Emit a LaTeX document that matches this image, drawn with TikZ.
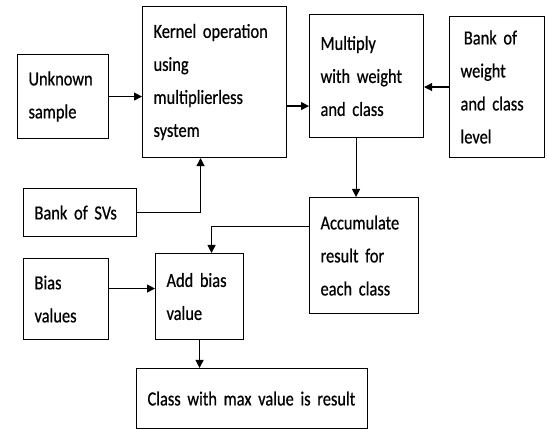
\documentclass[tikz,border=0pt]{standalone}
\usepackage{fontspec}
\setmainfont{Carlito}[FakeStretch=0.82,FakeBold=0.6,WordSpace=0.7]
\usetikzlibrary{calc,arrows.meta}

\begin{document}
\begin{tikzpicture}[x=1pt,y=-1pt,
		blk/.style={draw, line width=1.1pt, anchor=north west, align=left, inner xsep=11pt, inner ysep=0pt, font=\fontsize{20}{33}\selectfont},
		arr/.style={line width=1.1pt, -{Triangle[length=8pt,width=8pt]}}]
		\useasboundingbox (0,0) rectangle (547,430);
		% top row
		\node[blk, text width=69pt, minimum height=84pt] (unknown) at (17,54) {Unknown\\sample};
		\node[blk, text width=122pt, minimum height=151pt] (kernel) at (142,6) {Kernel operation\\using\\multiplierless\\system};
		\node[blk, text width=92pt, minimum height=123pt] (multiply) at (309,14) {Multiply\\with weight\\and class};
		\node[blk, text width=73pt, minimum height=141pt] (bankw) at (449,16) {\,Bank of\\weight\\and class\\level};
		% lower part
		\node[blk, text width=91pt, minimum height=48pt] (sv) at (23,188) {Bank of SVs};
		\node[blk, text width=87pt, minimum height=116pt] (accum) at (309,197) {Accumulate\\result for\\each class};
		\node[blk, text width=63pt, minimum height=81pt] (bias) at (23,258) {Bias\\values};
		\node[blk, text width=66pt, minimum height=86pt] (add) at (155,253) {Add bias\\value};
		\node[blk, text width=209pt, minimum height=60pt] (cls) at (136,368) {Class with max value is result};
		% connectors
		\coordinate (km) at ([yshift=-30pt]multiply.west);
		\coordinate (ma) at ([xshift=-8pt]accum.north);
		\coordinate (ab) at ([yshift=8pt]add.west);
		\draw[arr] (unknown.east) -- (unknown.east -| kernel.west);
		\draw[arr] (kernel.east |- km) -- (km);
		\draw[arr] (bankw.west) -- (bankw.west -| multiply.east);
		\draw[arr] (multiply.south -| ma) -- (ma);
		\draw[arr] (sv.east) -| ([xshift=-14pt]kernel.south);
		\draw[arr] ([yshift=29pt]accum.west) -| ([xshift=12pt]add.north);
		\draw[arr] (bias.east |- ab) -- (ab);
		\draw[arr] (add.south) -- (add.south |- cls.north);
	\end{tikzpicture}
\end{document}
